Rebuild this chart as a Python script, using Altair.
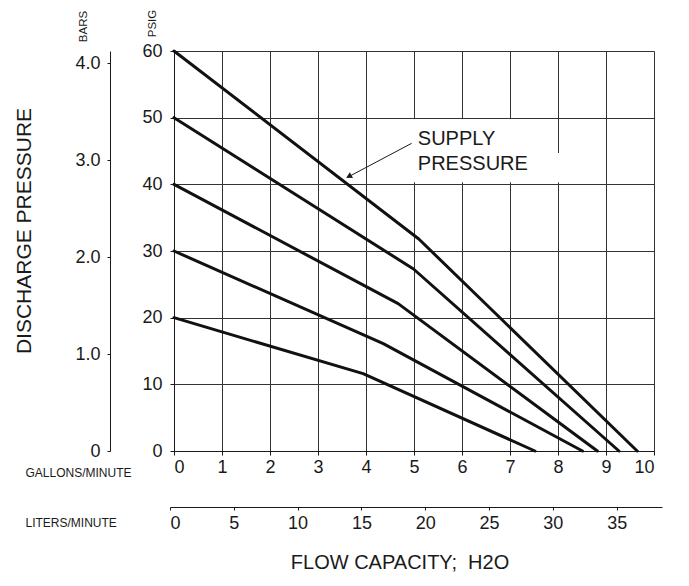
import altair as alt
import pandas as pd

FONT = "Liberation Sans"
INK = "#1a1a1a"

# supply-pressure curves: flow (gpm) vs discharge pressure (psig)
curve_supply = [60, 60, 60, 50, 50, 50, 40, 40, 40, 30, 30, 30, 20, 20, 20]
curve_gpm = [0, 5.1, 9.65, 0, 4.99, 9.27, 0, 4.67, 8.82, 0, 4.36, 8.51, 0, 3.94, 7.52]
curve_psig = [60, 31.8, 0, 50, 27.3, 0, 40, 22.1, 0, 30, 16.1, 0, 20, 11.6, 0]
curve_order = [0, 1, 2] * 5

gpm_ticks = list(range(0, 11))
psig_ticks = [0, 10, 20, 30, 40, 50, 60]
bars_ticks = [0, 1, 2, 3, 4]
liters_ticks = [0, 5, 10, 15, 20, 25, 30, 35]
bars_domain = [0, 4.124]
liters_domain = [0, 38.55]

curves = pd.DataFrame({"supply": curve_supply, "gpm": curve_gpm,
                       "psig": curve_psig, "o": curve_order})

XS = alt.Scale(domain=[0, 10], nice=False)
YS = alt.Scale(domain=[0, 60], nice=False)

X = alt.X("gpm:Q", scale=XS,
          axis=alt.Axis(values=gpm_ticks, grid=True, gridColor="#333", gridWidth=1,
                        domainColor=INK, tickColor=INK, tickSize=4, labelPadding=3,
                        labelFont=FONT, labelFontSize=18, labelColor=INK,
                        title="GALLONS/MINUTE", titleFont=FONT, titleFontSize=12,
                        titleFontWeight="normal", titleColor=INK, titleAlign="left",
                        titleBaseline="middle", titleX=-149, titleY=21, titleAngle=0))
Y = alt.Y("psig:Q", scale=YS,
          axis=alt.Axis(values=psig_ticks, grid=True, gridColor="#333", gridWidth=1,
                        domainColor=INK, tickColor=INK, tickSize=4, labelPadding=8,
                        labelFont=FONT, labelFontSize=18, labelColor=INK,
                        title="PSIG", titleFont=FONT, titleFontSize=11.5,
                        titleFontWeight="normal", titleColor=INK, titleAngle=270,
                        titleAlign="center", titleBaseline="middle",
                        titleX=-22, titleY=-28))

lines = alt.Chart(curves).mark_line(color="#111", strokeWidth=3, strokeCap="round",
                                    strokeJoin="round").encode(
    x=X, y=Y, detail="supply:N", order="o:Q")

Xp = alt.X("gpm:Q", scale=XS)
Yp = alt.Y("psig:Q", scale=YS)

# white box behind the label
box = pd.DataFrame({"gpm": [4.05, 7.9], "x2": [7.97, 8.1], "psig": [40.3, 40.3], "y2": [49.8, 44.7]})
boxes = alt.Chart(box).mark_rect(color="white").encode(x=Xp, x2="x2:Q", y=Yp, y2="y2:Q")

lab = pd.DataFrame({"gpm": [5.08, 5.08], "psig": [46.8, 43.05], "t": ["SUPPLY", "PRESSURE"]})
labels = alt.Chart(lab).mark_text(font=FONT, fontSize=20, align="left", baseline="middle",
                                  color=INK).encode(x=Xp, y=Yp, text="t:N")

arr = pd.DataFrame({"gpm": [4.95], "psig": [46.15], "x2": [3.6], "y2": [41.0]})
arrow = alt.Chart(arr).mark_rule(color=INK, strokeWidth=1).encode(
    x=Xp, x2="x2:Q", y=Yp, y2="y2:Q")
head = pd.DataFrame({"gpm": [3.66], "psig": [41.25]})
arrowhead = alt.Chart(head).mark_point(shape="triangle", filled=True, color=INK, size=45,
                                       angle=242, opacity=1).encode(x=Xp, y=Yp)

titles = pd.DataFrame({"t": ["DISCHARGE PRESSURE"]})
ytitle = alt.Chart(titles).mark_text(font=FONT, fontSize=21, angle=270, align="center",
                                     baseline="middle", color=INK).encode(
    x=alt.value(-149), y=alt.value(180), text="t:N")
xt = pd.DataFrame({"t": ["FLOW CAPACITY;\u00a0 H2O"]})
xtitle = alt.Chart(xt).mark_text(font=FONT, fontSize=20, align="center",
                                 baseline="middle", color=INK).encode(
    x=alt.value(226), y=alt.value(512), text="t:N")

inner = alt.layer(lines, boxes, arrow, arrowhead, labels, ytitle, xtitle)

sec = pd.DataFrame({"liters": liters_domain, "bars": bars_domain})
secondary = alt.Chart(sec).mark_point(opacity=0).encode(
    x=alt.X("liters:Q", scale=alt.Scale(domain=liters_domain, range=[-4, 488], nice=False),
            axis=alt.Axis(orient="bottom", offset=56, values=liters_ticks, grid=False,
                          domainColor=INK, tickColor=INK, tickSize=3, labelPadding=4,
                          labelFont=FONT, labelFontSize=18, labelColor=INK,
                          title="LITERS/MINUTE", titleFont=FONT, titleFontSize=12,
                          titleFontWeight="normal", titleColor=INK, titleAlign="left",
                          titleBaseline="middle", titleX=-149, titleY=15, titleAngle=0)),
    y=alt.Y("bars:Q", scale=alt.Scale(domain=bars_domain, nice=False),
            axis=alt.Axis(orient="left", offset=64, values=bars_ticks, grid=False,
                          domainColor=INK, tickColor=INK, tickSize=3, labelPadding=7,
                          labelFont=FONT, labelFontSize=18, labelColor=INK,
                          labelExpr="datum.value == 0 ? '0' : format(datum.value, '.1f')",
                          title="BARS", titleFont=FONT, titleFontSize=11.5,
                          titleFontWeight="normal", titleColor=INK, titleAngle=270,
                          titleAlign="center", titleBaseline="middle",
                          titleX=-27, titleY=-25)))

chart = alt.layer(inner, secondary).resolve_scale(x="independent", y="independent").properties(
    width=480, height=400,
    autosize=alt.AutoSizeParams(type="none"),
    padding={"left": 166, "top": 43, "right": 27, "bottom": 127},
    background="white",
).configure_view(stroke=None)

chart.save("out.html", embed_options={"renderer": "svg", "actions": False})
